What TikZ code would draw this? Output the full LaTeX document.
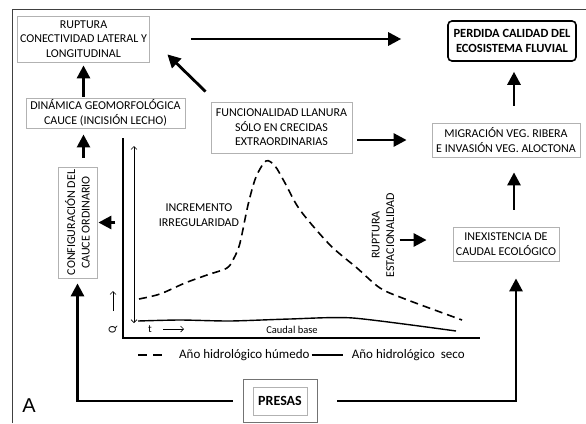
\documentclass[tikz,border=0pt]{standalone}
\usepackage{fontspec}
\setmainfont{Carlito}
\newfontfamily\arialf{Liberation Sans}
\usetikzlibrary{arrows.meta,calc}
\begin{document}
\begin{tikzpicture}[x=1pt,y=-1pt,
  box/.style={draw=black!30, line width=0.8pt, align=center, inner sep=2pt, font=\fontsize{12}{14.5}\selectfont},
  big/.style={line width=2.8pt, -{Triangle[length=13pt,width=13pt]}},
  thinarr/.style={line width=0.7pt, -{Straight Barb[length=3pt,width=6pt]}},
  hum/.style={line width=1.6pt, dash pattern=on 8pt off 5pt},
  sec/.style={line width=1.4pt},
  lbl/.style={font=\fontsize{12}{14.5}\selectfont, align=center}
]
\useasboundingbox (0,0) rectangle (586,423);
\fill[white] (0,0) rectangle (586,423);
\draw[black!75, line width=1pt] (12,423) -- (12,9) -- (586,9);

% boxes
\node[box, minimum width=132pt, minimum height=46pt] (ruptura) at (83.5,39) {RUPTURA\\CONECTIVIDAD LATERAL Y\\LONGITUDINAL};
\node[box, minimum width=159pt, minimum height=30pt] (dinamica) at (105.5,113) {DINÁMICA GEOMORFOLÓGICA\\CAUCE (INCISIÓN LECHO)};
\node[box, minimum width=141pt, minimum height=51pt] (func) at (281.5,127.5) {FUNCIONALIDAD LLANURA\\SÓLO EN CRECIDAS\\EXTRAORDINARIAS};
\node[box, draw=black, line width=1.6pt, rounded corners=4pt, font=\bfseries\fontsize{12.5}{15}\selectfont, minimum width=128pt, minimum height=40pt] (perdida) at (512,41) {PERDIDA CALIDAD DEL\\ECOSISTEMA FLUVIAL};
\node[box, minimum width=148pt, minimum height=34pt] (migracion) at (506,140) {MIGRACIÓN VEG. RIBERA\\E INVASIÓN VEG. ALOCTONA};
\node[box, minimum width=106pt, minimum height=34pt] (inexist) at (506,244) {INEXISTENCIA DE\\CAUDAL ECOLÓGICO};
\node[box, rotate=90, minimum width=111pt, minimum height=39pt] (config) at (77.5,222.5) {CONFIGURACIÓN DEL\\CAUCE ORDINARIO};
\node[draw=black!55, line width=0.9pt, minimum width=74pt, minimum height=43pt] (presas) at (280,401) {};
\node[draw=black!30, line width=0.8pt, minimum width=54pt, minimum height=28pt, font=\bfseries\fontsize{14}{16}\selectfont] (presasin) at (presas.center) {PRESAS};

% big arrows
\draw[big, shorten <=41pt, shorten >=46pt] (ruptura.east) -- (ruptura.east -| perdida.west);
\draw[big] ([xshift=-5pt,yshift=10pt]func.north west) -- ([xshift=17.5pt,yshift=8pt]ruptura.south east);
\draw[big, shorten <=1pt, shorten >=3pt] (dinamica.north -| ruptura.south) -- (ruptura.south);
\draw[big, shorten <=9pt, shorten >=6pt] (config.east -| ruptura.south) -- (dinamica.south -| ruptura.south);
\draw[big, shorten <=10pt, shorten >=5pt] (presas.west) -| (config.west);
\draw[big, shorten <=20pt, shorten >=17pt] (presas.east) -| ([xshift=10pt]inexist.south);
\draw[big, shorten <=17pt, shorten >=15pt] ([xshift=8pt]inexist.north) -- ([xshift=8pt]migracion.south);
\draw[big, shorten <=17pt, shorten >=10pt] ([xshift=8pt]migracion.north) -- ([xshift=8pt]migracion.north |- perdida.south);
\draw[big, shorten <=5pt, shorten >=25pt] ([yshift=-12.5pt]func.east) -- ([yshift=-12.5pt]func.east -| migracion.west);
\draw[big, shorten >=1pt] ([xshift=18pt]config.south) -- (config.south);
\draw[big] ([xshift=-53pt,yshift=4pt]inexist.west) -- ([xshift=-26pt,yshift=4pt]inexist.west);

% graph
\draw[line width=1.6pt] (123,138) -- (123,338) -- (480,338);
\draw[line width=0.7pt, {Straight Barb[length=3pt,width=6pt]}-{Straight Barb[length=3pt,width=6pt]}] (134,146) -- (134,323);
\draw[sec] plot[smooth, tension=0.4] coordinates {(138,321) (180,320) (230,321) (290,319) (353,318) (456,331)};
\draw[hum] plot[smooth, tension=0.5] coordinates {(139,299) (160,294) (185,283) (207,275) (227,268) (234,258) (240,243) (248,205) (256,177) (266,161) (275,166) (285,183) (300,210) (330,245) (357,268) (380,288) (405,299) (462,320)};

\node[lbl] (incr) at (199,215) {INCREMENTO\\IRREGULARIDAD};
\node[lbl, rotate=90] (rupest) at (383,235) {RUPTURA\\ESTACIONALIDAD};
\node[font=\fontsize{10.5}{12}\selectfont] (cb) at (292,330) {Caudal base};
\node[font=\fontsize{11}{12}\selectfont] (tl) at (150,329) {t};
\draw[thinarr] ([xshift=13pt]tl.center) -- ([xshift=34pt]tl.center);
\node[rotate=90, font=\fontsize{11}{12}\selectfont] (ql) at (113,330) {Q};
\draw[thinarr] ([yshift=19pt]ql.center) -- ([yshift=39pt]ql.center);

% legend
\draw[line width=1.6pt, dash pattern=on 9pt off 6pt] (138,355) -- (163,355);
\node[anchor=west, inner sep=0pt, font=\fontsize{13}{14}\selectfont] (lh) at (179,355) {Año hidrológico húmedo};
\draw[sec] ([xshift=2pt]lh.east) -- ([xshift=33pt]lh.east);
\node[anchor=west, inner sep=0pt, font=\fontsize{13}{14}\selectfont] (ls) at ([xshift=42pt]lh.east) {Año hidrológico\ \ seco};

\node[font=\arialf\fontsize{20}{22}\selectfont] (alabel) at (29,406) {A};
\end{tikzpicture}
\end{document}
